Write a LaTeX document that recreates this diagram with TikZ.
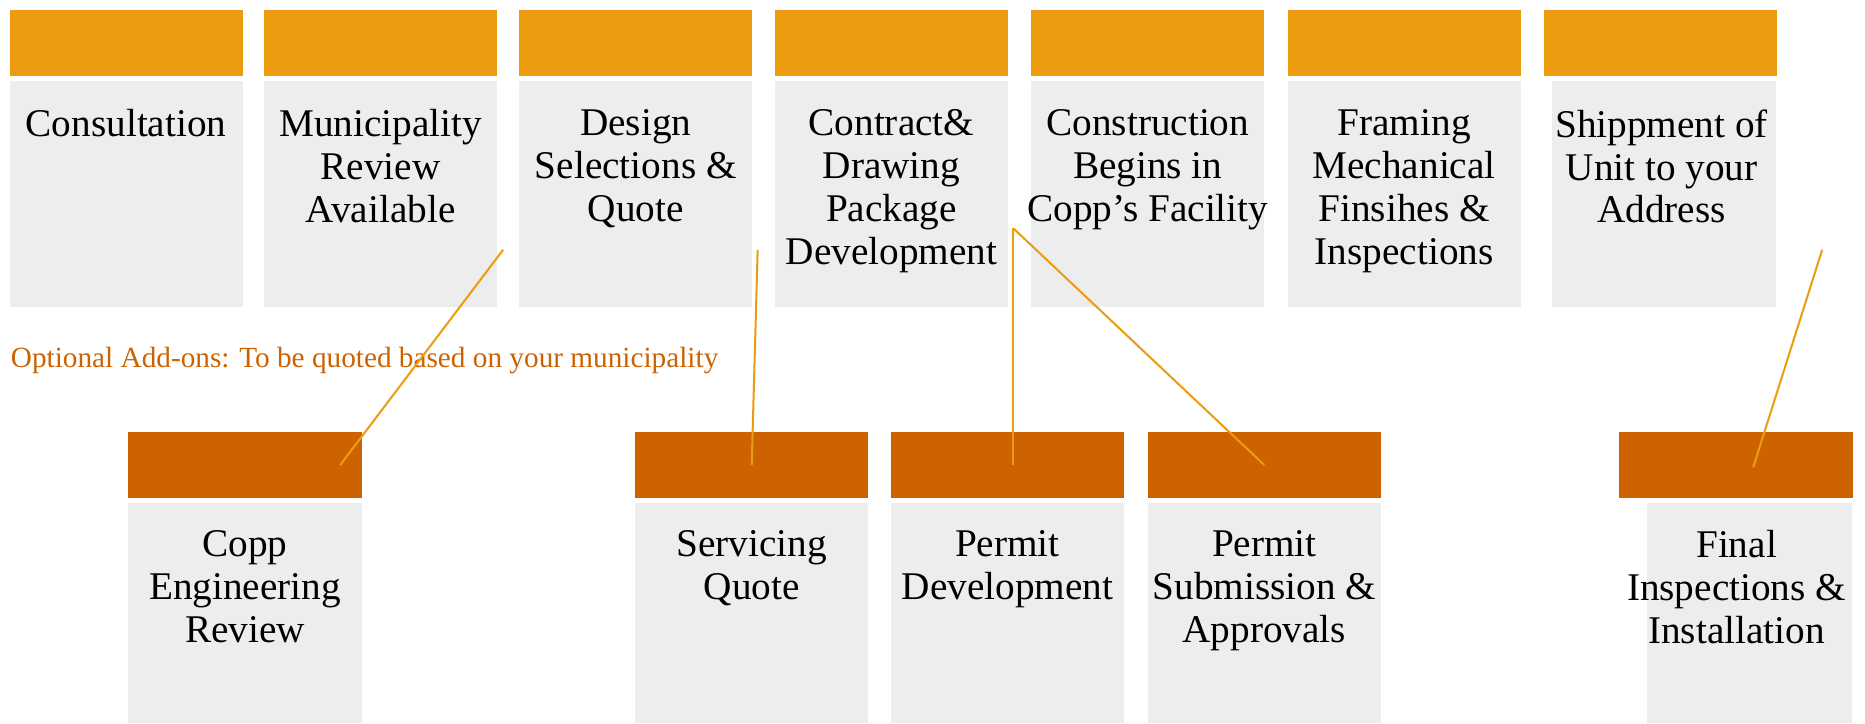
\documentclass[tikz,border=0pt]{standalone}
\usepackage{fontspec}
\setmainfont{Liberation Serif}

\definecolor{topc}{RGB}{235,156,17}
\definecolor{addc}{RGB}{204,98,0}
\definecolor{cardc}{RGB}{237,237,237}

\begin{document}
\begin{tikzpicture}[x=1pt, y=-1pt,
    tnode/.style={fill=topc, minimum width=196pt, minimum height=56pt, inner sep=0},
    anode/.style={fill=addc, minimum width=196pt, minimum height=56pt, inner sep=0},
    gnode/.style={fill=cardc, minimum width=196pt, minimum height=190pt, inner sep=0},
    lnode/.style={anchor=north, align=center, inner sep=0, font=\fontsize{33}{36}\selectfont},
    link/.style={draw=topc, line width=1.7pt}]
    \useasboundingbox (0,0) rectangle (1568,608);

    % main steps
    \node[tnode] (t1) at (106,36) {};
    \node[gnode] (g1) at (106,163) {};
    \node[lnode] (l1) at (106,92) {Consultation};
    \node[tnode] (t2) at (320,36) {};
    \node[gnode] (g2) at (320,163) {};
    \node[lnode] (l2) at (320,92) {Municipality\\Review\\Available};
    \node[tnode] (t3) at (534.5,36) {};
    \node[gnode] (g3) at (534.5,163) {};
    \node[lnode] (l3) at (534.5,92) {Design\\Selections \&\\Quote};
    \node[tnode] (t4) at (749.5,36) {};
    \node[gnode] (g4) at (749.5,163) {};
    \node[lnode] (l4) at (749.5,92) {Contract\&\\Drawing\\Package\\Development};
    \node[tnode] (t5) at (965,36) {};
    \node[gnode] (g5) at (965,163) {};
    \node[lnode] (l5) at (965,92) {Construction\\Begins in\\Copp’s Facility};
    \node[tnode] (t6) at (1180.5,36) {};
    \node[gnode] (g6) at (1180.5,163) {};
    \node[lnode] (l6) at (1180.5,92) {Framing\\Mechanical\\Finsihes \&\\Inspections};
    \node[tnode] (t7) at (1396,36) {};
    \node[gnode, minimum width=188pt] (g7) at (1399,163) {};
    \node[lnode] (l7) at (1397,92) {Shippment of\\Unit to your\\Address};

    \node[anchor=base west, inner sep=0, text=addc, font=\fontsize{24.6}{28}\selectfont] (note) at (9,309)
        {Optional Add-ons: To be quoted based on your municipality};

    % add-ons
    \node[anode] (a1) at (206,391) {};
    \node[gnode, minimum height=185pt] (h1) at (206,515.5) {};
    \node[lnode] (k1) at (206,446) {Copp\\Engineering\\Review};
    \node[anode] (a2) at (632,391) {};
    \node[gnode, minimum height=185pt] (h2) at (632,515.5) {};
    \node[lnode] (k2) at (632,446) {Servicing\\Quote};
    \node[anode] (a3) at (847,391) {};
    \node[gnode, minimum height=185pt] (h3) at (847,515.5) {};
    \node[lnode] (k3) at (847,446) {Permit\\Development};
    \node[anode] (a4) at (1063,391) {};
    \node[gnode, minimum height=185pt] (h4) at (1063,515.5) {};
    \node[lnode] (k4) at (1063,446) {Permit\\Submission \&\\Approvals};
    \node[anode] (a5) at (1459.5,391) {};
    \node[gnode, minimum width=172pt, minimum height=185pt] (h5) at (1471,515.5) {};
    \node[lnode] (k5) at (1460,446) {Final\\Inspections \&\\Installation};

    \coordinate (p1) at (423,210);
    \coordinate (p2) at (637,210);
    \coordinate (p3) at (852,192);
    \coordinate (p5) at (1532,210);
    \coordinate (q1) at (286,391);
    \coordinate (q3) at (852,391);
    \coordinate (q5) at (1474,393);

    \draw[link] (p1) -- (q1);
    \draw[link] (p2) -- (a2.center);
    \draw[link] (p3) -- (q3);
    \draw[link] (p3) -- (a4.center);
    \draw[link] (p5) -- (q5);
\end{tikzpicture}
\end{document}
